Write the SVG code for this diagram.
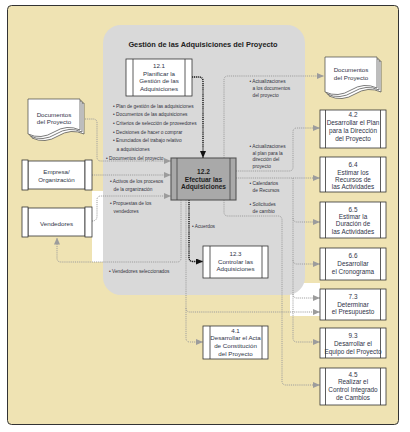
<svg xmlns="http://www.w3.org/2000/svg" width="410" height="432" viewBox="0 0 410 432">
<style>
.bx{fill:#fff;stroke:#333;stroke-width:0.8}
.il{stroke:#333;stroke-width:0.8}
.t{font-family:"Liberation Sans",Arial,sans-serif;font-size:6.2px;fill:#2f3448;text-anchor:middle}
.tr{font-family:"Liberation Sans",Arial,sans-serif;font-size:6.4px;fill:#2f3448;text-anchor:middle}
.tb{font-family:"Liberation Sans",Arial,sans-serif;font-size:6.6px;font-weight:bold;fill:#1e1e1e;text-anchor:middle}
.lb{font-family:"Liberation Sans",Arial,sans-serif;font-size:4.8px;fill:#333340}
.c{fill:none;stroke:#9c9c9c;stroke-width:1;stroke-dasharray:1 0.9}
.k{fill:none;stroke:#111;stroke-width:1.4;stroke-dasharray:1.1 0.8}
.pg{fill:#fff;stroke:#444;stroke-width:0.7}
</style>
<defs>
<marker id="ag" markerUnits="userSpaceOnUse" markerWidth="7" markerHeight="6" refX="7" refY="3" orient="auto">
<path d="M0,0 L7,3 L0,6 Z" fill="#9c9c9c"/>
</marker>
<marker id="ak" markerUnits="userSpaceOnUse" markerWidth="7" markerHeight="6" refX="7" refY="3" orient="auto">
<path d="M0,0 L7,3 L0,6 Z" fill="#111"/>
</marker>
<g id="doc">
<path class="pg" d="M4,4 H56 V35 Q43,29 30,37 T4,39 Z"/>
<path class="pg" d="M2,2 H54 V33 Q41,27 28,35 T2,37 Z"/>
<path class="pg" d="M0,0 H52 V31 Q39,25 26,33 T0,35 Z"/>
</g>
</defs>

<rect x="7.5" y="5.5" width="391" height="419" rx="4" fill="#EFE3B3" stroke="#333" stroke-width="1"/>
<rect x="92" y="191" width="14" height="71" fill="#fff"/>
<rect x="290" y="283" width="30" height="33" fill="#fff"/>
<rect x="103" y="25" width="202" height="270" rx="18" fill="#D9D9D9"/>
<text x="203" y="47" font-family="'Liberation Sans',Arial,sans-serif" font-size="7.4" font-weight="bold" fill="#222" text-anchor="middle">Gestión de las Adquisiciones del Proyecto</text>

<g id="labels">
<text class="lb" x="113" y="107.5">• Plan de gestión de las adquisiciones</text>
<text class="lb" x="113" y="115.5">• Documentos de las adquisiciones</text>
<text class="lb" x="113" y="124.5">• Criterios de selección de proveedores</text>
<text class="lb" x="113" y="133.5">• Decisiones de hacer o comprar</text>
<text class="lb" x="113" y="141.5">• Enunciados del trabajo relativo</text>
<text class="lb" x="116.5" y="150.5">a adquisiciones</text>
<text class="lb" x="106" y="159.5">• Documentos del proyecto</text>
<text class="lb" x="110" y="182.5">• Activos de los procesos</text>
<text class="lb" x="113.5" y="190.5">de la organización</text>
<text class="lb" x="110" y="204.5">• Propuestas de los</text>
<text class="lb" x="113.5" y="212.5">vendedores</text>
<text class="lb" x="109" y="272.5">• Vendedores seleccionados</text>
<text class="lb" x="192" y="227.5">• Acuerdos</text>
<text class="lb" x="249.5" y="83">• Actualizaciones</text>
<text class="lb" x="252.5" y="90">a los documentos</text>
<text class="lb" x="252.5" y="96.5">del proyecto</text>
<text class="lb" x="249.5" y="147.5">• Actualizaciones</text>
<text class="lb" x="252.5" y="154.5">al plan para la</text>
<text class="lb" x="252.5" y="161">dirección del</text>
<text class="lb" x="252.5" y="167.5">proyecto</text>
<text class="lb" x="249.5" y="184.5">• Calendarios</text>
<text class="lb" x="252.5" y="191.5">de Recursos</text>
<text class="lb" x="249.5" y="205.5">• Solicitudes</text>
<text class="lb" x="252.5" y="212.5">de cambio</text>
</g>

<g id="connectors">
<path class="c" d="M85,119 H93 Q97,119 97,123 V157 Q97,161 101,161 H171" marker-end="url(#ag)"/>
<path class="c" d="M92,175 H171" marker-end="url(#ag)"/>
<path class="c" d="M92,221 Q97,221 97,216 V200 Q97,196 101,196 H171" marker-end="url(#ag)"/>
<path class="c" d="M181,200 V258 Q181,262 177,262 H61 Q57,262 57,258 V237.5" marker-end="url(#ag)"/>
<path class="c" d="M186,200 V338 Q186,342 190,342 H203" marker-end="url(#ag)"/>
<path class="c" d="M186,308 Q186,312 190,312 H320" marker-end="url(#ag)"/>
<path class="c" d="M224,158 V80 Q224,76 228,76 H324" marker-end="url(#ag)"/>
<path class="c" d="M236,171 H289 Q293,171 293,167 V132 Q293,128 297,128 H320" marker-end="url(#ag)"/>
<path class="c" d="M236,178 H320" marker-end="url(#ag)"/>
<path class="c" d="M293,178 V338 Q293,342 297,342 H320" marker-end="url(#ag)"/>
<path class="c" d="M293,218 Q293,222 297,222 H320" marker-end="url(#ag)"/>
<path class="c" d="M293,260 Q293,264 297,264 H320" marker-end="url(#ag)"/>
<path class="c" d="M293,294 Q293,298 297,298 H320" marker-end="url(#ag)"/>
<path class="c" d="M224,200 V212 Q224,216 228,216 H278 Q282,216 282,220 V381 Q282,385 286,385 H320" marker-end="url(#ag)"/>
<path class="k" d="M192,77 H199 Q203,77 203,81 V158" marker-end="url(#ak)"/>
<path class="k" d="M189,200 V257.5 Q189,261.5 193,261.5 H203" marker-end="url(#ak)"/>
</g>

<g id="doc-left">
<use href="#doc" x="28" y="99"/>
<text class="t" x="54" y="117">Documentos</text>
<text class="t" x="54" y="124">del Proyecto</text>
</g>
<g id="doc-right">
<use href="#doc" x="325" y="57"/>
<text class="t" x="351" y="72">Documentos</text>
<text class="t" x="351" y="79.5">del Proyecto</text>
</g>

<g id="empresa">
<rect class="bx" x="28" y="161" width="57" height="28"/>
<rect class="bx" x="22" y="160" width="6" height="30"/>
<rect class="bx" x="85" y="160" width="7" height="30"/>
<text class="t" x="56.5" y="174">Empresa/</text>
<text class="t" x="56.5" y="181.5">Organización</text>
</g>
<g id="vendedores">
<rect class="bx" x="28" y="208" width="57" height="28"/>
<rect class="bx" x="22" y="207" width="6" height="30"/>
<rect class="bx" x="85" y="207" width="7" height="30"/>
<text class="t" x="56.5" y="225.5">Vendedores</text>
</g>

<g id="p12-1">
<rect class="bx" x="126" y="59" width="66" height="37"/>
<line class="il" x1="133" y1="59" x2="133" y2="96"/>
<line class="il" x1="185" y1="59" x2="185" y2="96"/>
<text class="t" x="159" y="68">12.1</text>
<text class="t" x="159" y="75.5">Planificar la</text>
<text class="t" x="159" y="83">Gestión de las</text>
<text class="t" x="159" y="90.5">Adquisiciones</text>
</g>
<g id="p12-2">
<rect x="171" y="158" width="65" height="42" fill="#A9A9A9" stroke="#555" stroke-width="1.1"/>
<line x1="177" y1="158" x2="177" y2="200" stroke="#444" stroke-width="0.8"/>
<line x1="230" y1="158" x2="230" y2="200" stroke="#444" stroke-width="0.8"/>
<text class="tb" x="203.5" y="174">12.2</text>
<text class="tb" x="203.5" y="181.5">Efectuar las</text>
<text class="tb" x="203.5" y="189">Adquisiciones</text>
</g>
<g id="p12-3">
<rect class="bx" x="203" y="246" width="65" height="32"/>
<line class="il" x1="210" y1="246" x2="210" y2="278"/>
<line class="il" x1="262" y1="246" x2="262" y2="278"/>
<text class="t" x="235.5" y="256">12.3</text>
<text class="t" x="235.5" y="263.5">Controlar las</text>
<text class="t" x="235.5" y="271">Adquisiciones</text>
</g>
<g id="p4-1">
<rect class="bx" x="203" y="326" width="65" height="33"/>
<line class="il" x1="210" y1="326" x2="210" y2="359"/>
<line class="il" x1="262" y1="326" x2="262" y2="359"/>
<text class="t" x="235.5" y="332.5">4.1</text>
<text class="t" x="235.5" y="340">Desarrollar el Acta</text>
<text class="t" x="235.5" y="348">de Constitución</text>
<text class="t" x="235.5" y="356">del Proyecto</text>
</g>

<g id="p4-2">
<rect class="bx" x="320" y="110" width="66" height="38"/>
<line class="il" x1="325.5" y1="110" x2="325.5" y2="148"/>
<line class="il" x1="380.5" y1="110" x2="380.5" y2="148"/>
<text class="tr" x="353" y="117">4.2</text>
<text class="tr" x="353" y="125">Desarrollar el Plan</text>
<text class="tr" x="353" y="133">para la Dirección</text>
<text class="tr" x="353" y="141">del Proyecto</text>
</g>
<g id="p6-4">
<rect class="bx" x="320" y="157" width="66" height="35"/>
<line class="il" x1="325.5" y1="157" x2="325.5" y2="192"/>
<line class="il" x1="380.5" y1="157" x2="380.5" y2="192"/>
<text class="tr" x="353" y="167">6.4</text>
<text class="tr" x="353" y="174.5">Estimar los</text>
<text class="tr" x="353" y="181.5">Recursos de</text>
<text class="tr" x="353" y="189">las Actividades</text>
</g>
<g id="p6-5">
<rect class="bx" x="320" y="202" width="66" height="36"/>
<line class="il" x1="325.5" y1="202" x2="325.5" y2="238"/>
<line class="il" x1="380.5" y1="202" x2="380.5" y2="238"/>
<text class="tr" x="353" y="212">6.5</text>
<text class="tr" x="353" y="219">Estimar la</text>
<text class="tr" x="353" y="226">Duración de</text>
<text class="tr" x="353" y="234">las Actividades</text>
</g>
<g id="p6-6">
<rect class="bx" x="320" y="248" width="66" height="32"/>
<line class="il" x1="325.5" y1="248" x2="325.5" y2="280"/>
<line class="il" x1="380.5" y1="248" x2="380.5" y2="280"/>
<text class="tr" x="353" y="257.5">6.6</text>
<text class="tr" x="353" y="265.5">Desarrollar</text>
<text class="tr" x="353" y="274">el Cronograma</text>
</g>
<g id="p7-3">
<rect class="bx" x="320" y="289" width="66" height="31"/>
<line class="il" x1="325.5" y1="289" x2="325.5" y2="320"/>
<line class="il" x1="380.5" y1="289" x2="380.5" y2="320"/>
<text class="tr" x="353" y="298.5">7.3</text>
<text class="tr" x="353" y="306.5">Determinar</text>
<text class="tr" x="353" y="314">el Presupuesto</text>
</g>
<g id="p9-3">
<rect class="bx" x="320" y="328" width="66" height="30"/>
<line class="il" x1="325.5" y1="328" x2="325.5" y2="358"/>
<line class="il" x1="380.5" y1="328" x2="380.5" y2="358"/>
<text class="tr" x="353" y="338">9.3</text>
<text class="tr" x="353" y="345.5">Desarrollar el</text>
<text class="tr" x="353" y="353.5">Equipo del Proyecto</text>
</g>
<g id="p4-5">
<rect class="bx" x="320" y="368" width="66" height="37"/>
<line class="il" x1="325.5" y1="368" x2="325.5" y2="405"/>
<line class="il" x1="380.5" y1="368" x2="380.5" y2="405"/>
<text class="tr" x="353" y="376.5">4.5</text>
<text class="tr" x="353" y="384">Realizar el</text>
<text class="tr" x="353" y="392">Control Integrado</text>
<text class="tr" x="353" y="399.5">de Cambios</text>
</g>
</svg>
